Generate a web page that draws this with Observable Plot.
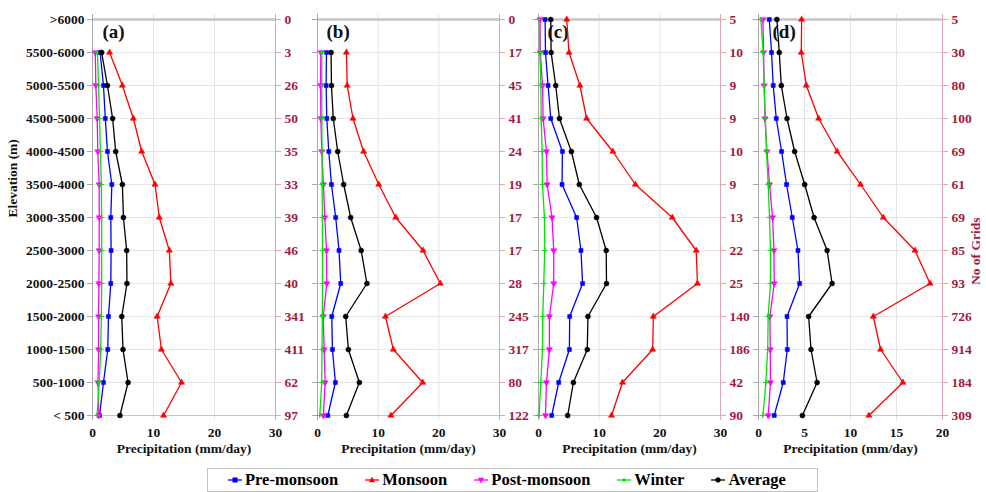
<!DOCTYPE html>
<html>
<head>
<meta charset="utf-8">
<script src="https://cdn.jsdelivr.net/npm/d3@7"></script>
<script src="https://cdn.jsdelivr.net/npm/@observablehq/plot@0.6"></script>
<style>
  html, body { margin: 0; padding: 0; background: #fff; }
  #chart { position: relative; width: 986px; height: 492px; font-family: "Liberation Serif", "Times New Roman", serif; font-weight: bold; }
  #chart svg { position: absolute; top: 0; overflow: visible; }
  #legend { position: absolute; left: 207px; top: 468px; width: 611px; height: 24px; border: 1px solid #c4c4c4; box-sizing: border-box; display: flex; align-items: center; padding-left: 20px; font-size: 16.5px; }
  .item { display: flex; align-items: center; margin-right: 27px; }
  .item svg { position: static !important; margin-right: 3px; }
</style>
</head>
<body>
<div id="chart"><div id="legend"></div></div>
<script>
// Elevation bands, bottom (index 0) to top (index 12)
const categories = ["< 500","500-1000","1000-1500","1500-2000","2000-2500","2500-3000","3000-3500","3500-4000","4000-4500","4500-5000","5000-5500","5500-6000",">6000"];

const seriesNames = ["Pre-monsoon","Monsoon","Post-monsoon","Winter","Average"];
const seriesColors = ["#0000ff","#ff0000","#ff00ff","#00e600","#000000"];

// Panel (a)
const preA  = [1.15, 1.8, 2.5, 2.62, 3.0, 3.05, 3.0, 3.17, 2.45, 2.1, 1.8, 1.25, null];
const monA  = [11.65, 14.6, 11.3, 10.6, 12.85, 12.6, 10.95, 10.25, 8.07, 6.7, 4.9, 2.8, null];
const postA = [1.05, 0.9, 1.0, 1.0, 1.05, 1.1, 1.1, 1.1, 0.87, 0.77, 0.55, 0.45, null];
const winA  = [0.75, 1.1, 1.35, 1.45, 1.5, 1.5, 1.5, 1.45, 1.3, 1.15, 1.0, 0.8, null];
const avgA  = [4.5, 5.83, 5.0, 4.8, 5.65, 5.6, 5.07, 4.9, 3.8, 3.3, 2.45, 1.5, null];
const gridsA = [97, 62, 411, 341, 40, 46, 39, 33, 35, 50, 26, 3, 0];

// Panel (b)
const preB  = [1.7, 2.95, 2.46, 2.35, 3.83, 3.55, 3.0, 2.3, 1.86, 1.53, 1.42, 1.48, null];
const monB  = [12.1, 17.35, 12.5, 11.2, 20.25, 17.4, 12.9, 10.1, 7.6, 5.85, 4.9, 4.76, null];
const postB = [0.98, 1.25, 1.1, 0.95, 1.53, 1.48, 1.2, 0.98, 0.7, 0.55, 0.5, 0.55, null];
const winB  = [0.38, 0.7, 0.75, 0.8, 0.82, 0.82, 0.8, 0.77, 0.75, 0.72, 0.7, 0.7, null];
const avgB  = [4.76, 6.9, 5.09, 4.65, 8.15, 7.2, 5.47, 4.32, 3.33, 2.6, 2.3, 2.24, null];
const gridsB = [122, 80, 317, 245, 28, 17, 17, 19, 24, 41, 45, 17, 0];

// Panel (c)
const preC  = [2.18, 3.33, 5.09, 5.14, 7.27, 7.0, 6.29, 3.88, 3.94, 2.02, 1.58, 1.15, 1.09];
const monC  = [12.04, 13.84, 18.82, 18.93, 26.2, 26.0, 22.05, 15.97, 12.25, 7.93, 6.83, 5.03, 4.65];
const postC = [1.15, 1.31, 1.8, 1.8, 2.51, 2.51, 2.23, 1.42, 1.31, 0.76, 0.66, 0.3, 0.25];
const winC  = [0.1, 0.38, 0.65, 0.7, 0.87, 1.03, 0.98, 0.65, 0.6, 0.45, 0.38, 0.22, 0.12];
const avgC  = [4.81, 5.75, 8.04, 8.15, 11.21, 11.16, 9.57, 6.73, 5.42, 3.45, 2.84, 2.08, 2.02];
const gridsC = [90, 42, 186, 140, 25, 22, 13, 9, 10, 9, 9, 10, 5];

// Panel (d)
const preD  = [1.71, 2.69, 3.13, 3.1, 4.47, 4.29, 3.67, 3.05, 2.51, 1.93, 1.6, 1.42, 1.17];
const monD  = [12.0, 15.7, 13.27, 12.48, 18.65, 17.01, 13.57, 11.09, 8.55, 6.54, 5.2, 4.65, 4.69];
const postD = [1.06, 1.3, 1.28, 1.24, 1.71, 1.68, 1.53, 1.2, 0.92, 0.7, 0.62, 0.55, 0.48];
const winD  = [0.48, 0.8, 1.0, 1.05, 1.3, 1.3, 1.2, 1.05, 0.87, 0.75, 0.62, 0.5, 0.26];
const avgD  = [4.77, 6.37, 5.71, 5.45, 8.0, 7.46, 6.04, 5.02, 3.93, 3.1, 2.48, 2.26, 2.0];
const gridsD = [309, 184, 914, 726, 93, 85, 69, 61, 69, 100, 80, 30, 5];

const xTicks30 = [0, 10, 20, 30];
const xTicks20 = [0, 5, 10, 15, 20];

// Custom down-pointing triangle symbol
const triangleDown = {
  draw(context, size) {
    const y = -Math.sqrt(size / (Math.sqrt(3) * 3));
    context.moveTo(0, -y * 2);
    context.lineTo(-Math.sqrt(3) * y, y);
    context.lineTo(Math.sqrt(3) * y, y);
    context.closePath();
  }
};
const symbols = ["square", "triangle", triangleDown, "plus", "circle"];
const radii = [2.3, 2.3, 2.3, 2.0, 2.5];

const AXIS_GREY = "#a8a8a8";
const PINK = "#e2a3b3";
const CRIMSON = "#a3193c";
const H = 470, MT = 14, MB = 50;

function makePanel({vals, grids, xmax, ticks, label, left, ml, mr, plotW, leftLabels, rightTitle, labelDx}) {
  const yDomain = categories.slice().reverse();
  const marks = [
    Plot.gridY(yDomain, {stroke: "#e4e4e4", strokeOpacity: 1}),
    Plot.gridX(ticks.filter(t => t > 0 && t < xmax), {stroke: "#e4e4e4", strokeOpacity: 1}),
    Plot.ruleY([categories[categories.length - 1]], {stroke: "#c6c6c6", strokeWidth: 2.5}),
    Plot.ruleY([categories[0]], {stroke: "#c6c6c6", strokeWidth: 1}),
    Plot.ruleX([0], {stroke: AXIS_GREY, strokeWidth: 1}),
    Plot.ruleX([xmax], {stroke: PINK, strokeWidth: 1}),
    Plot.axisY({anchor: "left", label: null, tickSize: 5, tickPadding: 3, stroke: AXIS_GREY, fill: "#111",
      fontSize: 13.5, fontWeight: "bold", tickFormat: leftLabels ? (d => d) : (() => "")}),
    Plot.axisY({anchor: "right", label: null, tickSize: 5, tickPadding: 4, stroke: PINK, fill: CRIMSON,
      fontSize: 13.5, fontWeight: "bold", tickFormat: d => String(grids[categories.indexOf(d)])}),
    Plot.axisX({ticks, tickSize: 0, tickPadding: 7, fill: "#111", fontSize: 13.5, fontWeight: "bold", label: null}),
    Plot.text(["Precipitation (mm/day)"], {frameAnchor: "bottom", dy: 32, fontSize: 13.5, fontWeight: "bold", fill: "#111"}),
    Plot.text([label], {frameAnchor: "top-left", dx: labelDx, dy: 10, textAnchor: "start", lineAnchor: "top", fontSize: 19, fontWeight: "bold", fill: "#111"})
  ];
  seriesNames.forEach((name, k) => {
    const rows = categories.map((c, i) => ({cat: c, value: vals[k][i]})).filter(d => d.value != null);
    marks.push(Plot.line(rows, {x: "value", y: "cat", stroke: seriesColors[k], strokeWidth: 1.3}));
    marks.push(Plot.dot(rows, {x: "value", y: "cat", symbol: () => symbols[k], r: radii[k],
      fill: seriesColors[k], stroke: seriesColors[k], strokeWidth: k === 3 ? 1.2 : 0.5}));
  });
  if (leftLabels) {
    marks.push(Plot.text(["Elevation (m)"], {frameAnchor: "left", dx: -80, rotate: -90, fontSize: 13.5, fontWeight: "bold", fill: "#111"}));
  }
  if (rightTitle) {
    marks.push(Plot.text(["No of Grids"], {frameAnchor: "right", dx: 33, rotate: -90, fontSize: 13.5, fontWeight: "bold", fill: CRIMSON}));
  }
  const svg = Plot.plot({
    width: ml + plotW + mr,
    height: H,
    marginLeft: ml, marginRight: mr, marginTop: MT, marginBottom: MB,
    style: {fontFamily: '"Liberation Serif", "Times New Roman", serif', fontWeight: "bold", background: "transparent", overflow: "visible"},
    x: {domain: [0, xmax], range: [ml, ml + plotW]},
    y: {type: "point", domain: yDomain, padding: 0, range: [MT, H - MB]},
    marks
  });
  svg.style.left = left + "px";
  document.getElementById("chart").appendChild(svg);
}

makePanel({vals: [preA, monA, postA, winA, avgA], grids: gridsA, xmax: 30, ticks: xTicks30, label: "(a)", left: 0, ml: 92, mr: 30, plotW: 183, leftLabels: true, rightTitle: false, labelDx: 10});
makePanel({vals: [preB, monB, postB, winB, avgB], grids: gridsB, xmax: 30, ticks: xTicks30, label: "(b)", left: 305, ml: 12, mr: 30, plotW: 182, leftLabels: false, rightTitle: false, labelDx: 9});
makePanel({vals: [preC, monC, postC, winC, avgC], grids: gridsC, xmax: 30, ticks: xTicks30, label: "(c)", left: 529, ml: 9, mr: 28, plotW: 182, leftLabels: false, rightTitle: false, labelDx: 9});
makePanel({vals: [preD, monD, postD, winD, avgD], grids: gridsD, xmax: 20, ticks: xTicks20, label: "(d)", left: 748, ml: 10, mr: 44, plotW: 184, leftLabels: false, rightTitle: true, labelDx: 14});

// Legend
const legend = document.getElementById("legend");
const symPaths = [
  '<rect x="4.8" y="2.8" width="4.4" height="4.4"/>',
  '<path d="M7 2 L9.6 7 L4.4 7 Z"/>',
  '<path d="M7 8 L9.6 3 L4.4 3 Z"/>',
  '<path d="M7 3 V7 M5 5 H9" fill="none"/>',
  '<circle cx="7" cy="5" r="2.4"/>'
];
seriesNames.forEach((name, k) => {
  const item = document.createElement("div");
  item.className = "item";
  const c = seriesColors[k];
  item.innerHTML = `<svg width="14" height="10" viewBox="0 0 14 10"><line x1="0" y1="5" x2="14" y2="5" stroke="${c}" stroke-width="1.3"/><g fill="${c}" stroke="${c}" stroke-width="${k===3?1.2:0.5}">${symPaths[k]}</g></svg><span>${name}</span>`;
  legend.appendChild(item);
});
</script>
</body>
</html>
